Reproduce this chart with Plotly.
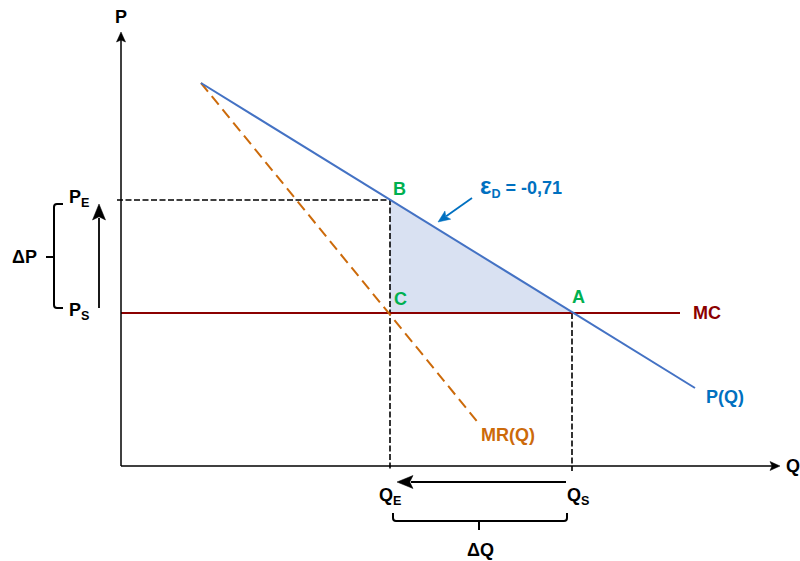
import math
import plotly.graph_objects as go

# ---- data (economic units) ----
demand_q = [8.0, 57.4]
demand_p = [38.3, 7.8]
mr_q = [8.0, 35.9]
mr_p = [38.3, 4.1]
mc_q = [0.0, 55.9]
mc_p = [15.3, 15.3]
Q_E, Q_S = 26.9, 45.1
P_E, P_S = 26.6, 15.3
elasticity_label = "<span style='font-size:24px'>ε</span><sub>D</sub> = -0,71"

BLUE_LINE = "#4472C4"
BLUE_TEXT = "#0070C0"
GREEN = "#00B050"
DARKRED = "#8B0000"
ORANGE = "#CC6A0A"
FONT = "Liberation Sans, Arial, sans-serif"
FS = 18

fig = go.Figure()

# shaded triangle B-C-A
fig.add_trace(go.Scatter(x=[Q_E, Q_E, Q_S, Q_E], y=[P_E, P_S, P_S, P_E], mode="lines",
                         fill="toself", fillcolor="#D9E1F2", line=dict(width=0),
                         hoverinfo="skip", showlegend=False))
# dashed guides
fig.add_trace(go.Scatter(x=[-0.4, Q_E, Q_E], y=[P_E, P_E, -0.5], mode="lines",
                         line=dict(color="black", width=1.6, dash="6px,2.5px"), showlegend=False))
fig.add_trace(go.Scatter(x=[Q_S, Q_S], y=[P_S, -0.5], mode="lines",
                         line=dict(color="black", width=1.6, dash="6px,2.5px"), showlegend=False))
# MC
fig.add_trace(go.Scatter(x=mc_q, y=mc_p, mode="lines",
                         line=dict(color=DARKRED, width=2), showlegend=False))
# MR
fig.add_trace(go.Scatter(x=mr_q, y=mr_p, mode="lines",
                         line=dict(color=ORANGE, width=2, dash="11px,6px"), showlegend=False))
# Demand
fig.add_trace(go.Scatter(x=demand_q, y=demand_p, mode="lines",
                         line=dict(color=BLUE_LINE, width=2), showlegend=False))

ann = []
shapes = []

def arrow(x0, y0, x1, y1, color="black", width=1.6, hl=1.0, hw=0.45):
    """Line from (x0,y0) to tip (x1,y1) with a filled triangular head (units are isotropic)."""
    dx, dy = x1 - x0, y1 - y0
    L = math.hypot(dx, dy)
    ux, uy = dx / L, dy / L
    bx, by = x1 - ux * hl, y1 - uy * hl
    px, py = -uy * hw, ux * hw
    shapes.append(dict(type="line", xref="x", yref="y", x0=x0, y0=y0, x1=bx + ux * 0.2, y1=by + uy * 0.2,
                       line=dict(color=color, width=width)))
    shapes.append(dict(type="path", xref="x", yref="y",
                       path=f"M {x1} {y1} L {bx+px} {by+py} L {bx+ux*hl*0.2} {by+uy*hl*0.2} L {bx-px} {by-py} Z",
                       fillcolor=color, line=dict(color=color, width=0.5)))

def label(x, y, text, color="black", size=FS, xanchor="center"):
    ann.append(dict(x=x, y=y, xref="x", yref="y", text="<b>" + text + "</b>", showarrow=False,
                    font=dict(family=FONT, size=size, color=color), xanchor=xanchor, yanchor="middle"))

# axes
arrow(0, 0, 65.9, 0, width=1.5, hl=1.0, hw=0.45)
arrow(0, 0, 0, 43.4, width=1.5, hl=1.0, hw=0.45)
label(0, 44.9, "P")
label(67.2, 0.0, "Q")

# P change arrow and Q change arrow
arrow(-2.2, P_S + 0.5, -2.2, P_E - 0.4, width=1.8, hl=1.6, hw=0.65)
arrow(Q_S - 0.6, -1.6, Q_E + 0.7, -1.6, width=1.8, hl=1.6, hw=0.65)

# point labels
label(Q_E + 0.9, P_E + 1.1, "B", GREEN)
label(Q_E + 1.0, P_S + 1.4, "C", GREEN)
label(Q_S + 0.6, P_S + 1.6, "A", GREEN)
label(58.6, 15.3, "MC", DARKRED)
label(60.4, 6.9, "P(Q)", BLUE_TEXT)
label(38.7, 3.1, "MR(Q)", ORANGE)
label(40.0, 28.0, elasticity_label, BLUE_TEXT)
arrow(35.1, 26.8, 31.7, 24.4, color=BLUE_TEXT, width=1.8, hl=1.2, hw=0.5)

label(-4.2, P_E + 0.2, "P<sub>E</sub>")
label(-4.2, P_S + 0.2, "P<sub>S</sub>")
label(-9.7, 20.9, "ΔP")
label(Q_E, -3.0, "Q<sub>E</sub>")
label(Q_S + 0.6, -3.0, "Q<sub>S</sub>")
label(35.9, -8.4, "ΔQ")

# brackets
shapes += [
    dict(type="path", xref="x", yref="y",
         path=f"M -5.8 {P_E-0.4} L -6.4 {P_E-0.4} Q -6.7 {P_E-0.4} -6.7 {P_E-0.7} "
              f"L -6.7 {P_S+0.8} Q -6.7 {P_S+0.5} -6.4 {P_S+0.5} L -5.8 {P_S+0.5} "
              f"M -6.7 20.9 L -7.5 20.9",
         line=dict(color="black", width=2)),
    dict(type="path", xref="x", yref="y",
         path=f"M 27.2 -4.7 L 27.2 -5.2 Q 27.2 -5.5 27.5 -5.5 L 44.3 -5.5 "
              f"Q 44.6 -5.5 44.6 -5.2 L 44.6 -4.7 M 35.8 -5.5 L 35.8 -6.4",
         line=dict(color="black", width=2)),
]

fig.update_layout(
    width=800, height=561, margin=dict(l=0, r=0, t=0, b=0, pad=0),
    paper_bgcolor="white", plot_bgcolor="white",
    xaxis=dict(range=[-12.1, 67.9], visible=False, fixedrange=True),
    yaxis=dict(range=[-9.5, 46.6], visible=False, fixedrange=True),
    annotations=ann, shapes=shapes, showlegend=False,
)
fig.write_html("out.html", config={"displayModeBar": False},
               post_script="document.body.style.margin='0';document.body.style.overflow='hidden';")
